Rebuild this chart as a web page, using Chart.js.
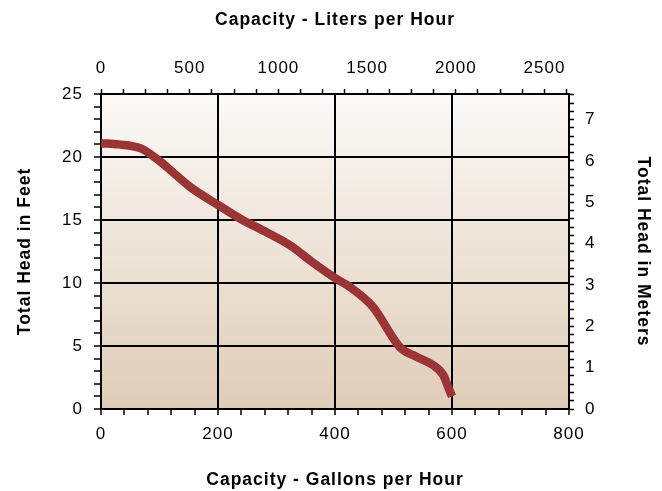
<!DOCTYPE html>
<html>
<head>
<meta charset="utf-8">
<script src="https://cdn.jsdelivr.net/npm/chart.js@4/dist/chart.umd.min.js"></script>
<style>
  html, body { margin: 0; padding: 0; background: #fff; }
  #wrap { width: 662px; height: 491px; }
</style>
</head>
<body>
<div id="wrap"><canvas id="pumpChart" width="662" height="491"></canvas></div>
<script>
// pump curve
const gallonsPerHour = [0, 30, 67, 97, 125, 153, 200, 238, 280, 323, 363, 400, 425, 465, 511, 539, 567, 585, 593, 600],
    headFeet = [21.1, 21.0, 20.7, 19.8, 18.7, 17.6, 16.2, 15.1, 14.1, 13.0, 11.6, 10.4, 9.7, 8.1, 4.9, 4.15, 3.5, 2.7, 1.8, 1.0];

// axis ranges and tick labels
const gallonTicks = [0, 200, 400, 600, 800],
    literTicks = [0, 500, 1000, 1500, 2000, 2500],
    feetTicks = [0, 5, 10, 15, 20, 25],
    meterTicks = [0, 1, 2, 3, 4, 5, 6, 7],
    literMax = 2638,
    meterMax = 7.62;

const font = 'Liberation Sans, Arial, Helvetica, sans-serif';

function isMajor(value, list) {
    return list.some(v => Math.abs(v - value) < 1e-6);
}

// minor ticks every `step`, from 0 up to the axis max
function stepTicks(step) {
    return scale => {
        const out = [];
        for (let i = 0; i * step <= scale.max + 1e-9; i++) {
            out.push({value: +(i * step).toFixed(6)});
        }
        scale.ticks = out;
    };
}

// light-to-tan fill behind the plot
const plotBackground = {
    id: 'plotBackground',
    beforeLayout(chart) {
        chart.ctx.letterSpacing = '1px';
    },
    beforeDraw(chart) {
        const {ctx, chartArea: a} = chart;
        ctx.letterSpacing = '1px';
        const g = ctx.createLinearGradient(0, a.top, 0, a.bottom);
        g.addColorStop(0, '#fbf9f7');
        g.addColorStop(1, '#dfcdb7');
        ctx.save();
        ctx.fillStyle = g;
        ctx.fillRect(a.left, a.top, a.right - a.left, a.bottom - a.top);
        ctx.restore();
    }
};

const tickFont = {family: font, size: 17},
    titleFont = {family: font, size: 17.5, weight: 'bold'};

new Chart(document.getElementById('pumpChart'), {
    type: 'line',
    data: {
        datasets: [{
            data: gallonsPerHour.map((g, i) => ({x: g, y: headFeet[i]})),
            xAxisID: 'x',
            yAxisID: 'y',
            borderColor: '#9b3434',
            borderWidth: 8.5,
            borderCapStyle: 'butt',
            pointRadius: 0,
            fill: false,
            cubicInterpolationMode: 'monotone'
        }]
    },
    options: {
        responsive: false,
        animation: false,
        layout: {padding: 0},
        plugins: {legend: {display: false}, tooltip: {enabled: false}},
        scales: {
            x: {
                type: 'linear', position: 'bottom', min: 0, max: 800,
                afterFit: s => { s.height = 82; },
                afterBuildTicks: stepTicks(40),
                ticks: {
                    autoSkip: false, maxRotation: 0, padding: 9,
                    color: '#000', font: tickFont,
                    callback: v => isMajor(v, gallonTicks) ? String(v) : ''
                },
                grid: {
                    color: c => isMajor(c.tick.value, gallonTicks) ? '#000' : 'rgba(0,0,0,0)',
                    tickColor: '#000', lineWidth: 2, tickWidth: 1.5, tickLength: 6
                },
                border: {color: '#000', width: 1.5},
                title: {display: true, text: 'Capacity - Gallons per Hour', color: '#000', font: titleFont, padding: {top: 0, bottom: 0}}
            },
            x2: {
                type: 'linear', position: 'top', min: 0, max: literMax,
                afterFit: s => { s.height = 94; },
                afterBuildTicks: stepTicks(125),
                ticks: {
                    autoSkip: false, maxRotation: 0, padding: 10,
                    color: '#000', font: tickFont,
                    callback: v => isMajor(v, literTicks) ? String(v) : ''
                },
                grid: {drawOnChartArea: false, tickColor: '#000', tickWidth: 1.5, tickLength: 5},
                border: {color: '#000', width: 1.5},
                title: {display: true, text: 'Capacity - Liters per Hour', color: '#000', font: titleFont, padding: {top: 9.5, bottom: 0}}
            },
            y: {
                type: 'linear', position: 'left', min: 0, max: 25,
                afterFit: s => { s.width = 101; },
                afterBuildTicks: stepTicks(1),
                ticks: {
                    autoSkip: false, padding: 11,
                    color: '#000', font: tickFont,
                    callback: v => isMajor(v, feetTicks) ? String(v) : ''
                },
                grid: {
                    color: c => isMajor(c.tick.value, feetTicks) ? '#000' : 'rgba(0,0,0,0)',
                    tickColor: '#000', lineWidth: 2, tickWidth: 1.5, tickLength: 7
                },
                border: {color: '#000', width: 1.5},
                title: {display: true, text: 'Total Head in Feet', color: '#000', font: titleFont, padding: {top: 14.5, bottom: 0}}
            },
            y2: {
                type: 'linear', position: 'right', min: 0, max: meterMax,
                afterFit: s => { s.width = 93; },
                afterBuildTicks: stepTicks(0.2),
                ticks: {
                    autoSkip: false, padding: 11,
                    color: '#000', font: tickFont,
                    callback: v => isMajor(v, meterTicks) ? String(Math.round(v)) : ''
                },
                grid: {drawOnChartArea: false, tickColor: '#000', tickWidth: 1.5, tickLength: 5},
                border: {color: '#000', width: 1.5},
                title: {display: true, text: 'Total Head in Meters', color: '#000', font: titleFont, padding: {top: 8.5, bottom: 0}}
            }
        }
    },
    plugins: [plotBackground]
});
</script>
</body>
</html>
